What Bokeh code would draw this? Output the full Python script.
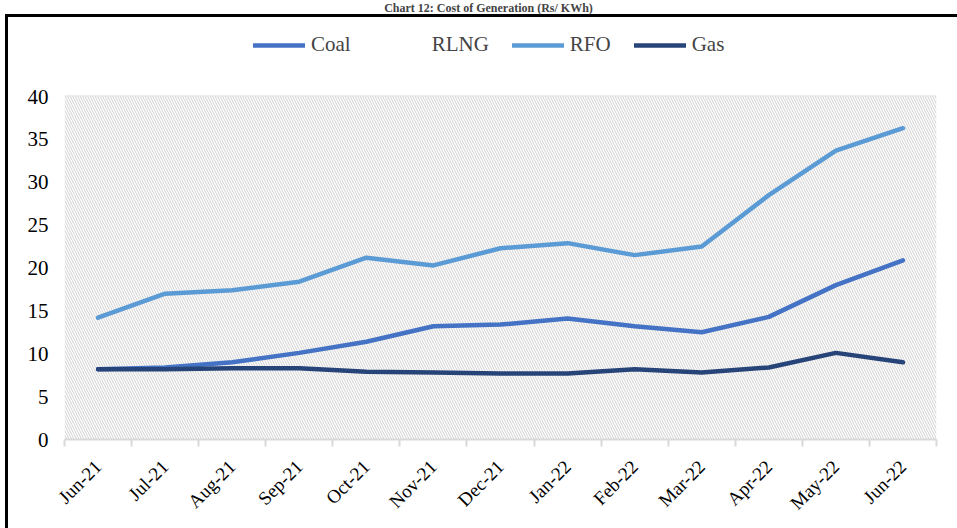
import math
from bokeh.plotting import figure
from bokeh.models import (Range1d, FixedTicker, Legend, LegendItem, BoxAnnotation,
                          Label, ColumnDataSource)
from bokeh.embed import file_html
from bokeh.resources import INLINE

# ---- data -------------------------------------------------------------
months = ["Jun-21", "Jul-21", "Aug-21", "Sep-21", "Oct-21", "Nov-21", "Dec-21",
          "Jan-22", "Feb-22", "Mar-22", "Apr-22", "May-22", "Jun-22"]
coal = [8.2, 8.4, 9.0, 10.1, 11.4, 13.2, 13.4, 14.1, 13.2, 12.5, 14.3, 18.0, 20.9]
rlng = [None, None, None, None, None, None, None, None, None, None, None, None, None]
rfo = [14.2, 17.0, 17.4, 18.4, 21.2, 20.3, 22.3, 22.9, 21.5, 22.5, 28.5, 33.7, 36.3]
gas = [8.2, 8.2, 8.3, 8.3, 7.9, 7.8, 7.7, 7.7, 8.2, 7.8, 8.4, 10.1, 9.0]
y_ticks = [0, 5, 10, 15, 20, 25, 30, 35, 40]
title_text = "Chart 12: Cost of Generation (Rs/ KWh)"

FONT = "Liberation Serif"
W, H = 957, 528
FRAME_BOTTOM = 439          # page y of the value axis zero line
FRAME_VALUE_TOP = 96        # page y of the 40 gridline

idx = list(range(len(months)))
source = ColumnDataSource(dict(x=idx, coal=coal, rlng=rlng, rfo=rfo, gas=gas))

# the frame reaches the top of the canvas so legend and title live inside it
y_top = y_ticks[-1] * FRAME_BOTTOM / (FRAME_BOTTOM - FRAME_VALUE_TOP)

p = figure(width=W, height=H,
           x_range=Range1d(-0.5, len(months) - 0.5), y_range=Range1d(0, y_top),
           output_backend="svg", toolbar_location=None,
           min_border_left=64, min_border_right=21,
           min_border_top=0, min_border_bottom=H - FRAME_BOTTOM)
p.outline_line_color = None
p.background_fill_alpha = 0
p.border_fill_alpha = 0
# outer chart border (top & left edges, as the reference crop shows)
p.styles = {
    "background-color": "white",
    "background-image": "linear-gradient(#000, #000), linear-gradient(#000, #000)",
    "background-size": "952px 3px, 3px 520px",
    "background-position": "5px 14px, 5px 14px",
    "background-repeat": "no-repeat",
}

# hatched plot area (0..40 only)
p.add_layout(BoxAnnotation(bottom=y_ticks[0], top=y_ticks[-1], fill_color="white",
                           fill_alpha=1, line_color=None,
                           hatch_pattern="\\", hatch_color="#d0d0d0",
                           hatch_scale=5, hatch_weight=1, level="underlay"))

# x axis
xa = p.xaxis[0]
xa.ticker = FixedTicker(ticks=idx, minor_ticks=[i - 0.5 for i in range(len(months) + 1)])
xa.major_label_overrides = {i: m for i, m in enumerate(months)}
xa.major_label_orientation = math.pi / 4
xa.axis_line_color = "#d9d9d9"
xa.axis_line_width = 2
xa.major_tick_line_color = None
xa.major_tick_out = 7
xa.major_tick_in = 0
xa.minor_tick_line_color = "#d9d9d9"
xa.minor_tick_line_width = 2
xa.minor_tick_out = 7
xa.minor_tick_in = 0
xa.major_label_standoff = 17
xa.major_label_text_font = FONT
xa.major_label_text_font_size = "19px"
xa.major_label_text_color = "black"

# y axis
ya = p.yaxis[0]
ya.ticker = FixedTicker(ticks=y_ticks)
ya.axis_line_color = None
ya.major_tick_line_color = None
ya.minor_tick_line_color = None
ya.major_tick_out = 0
ya.minor_tick_out = 0
ya.major_label_standoff = 16
ya.major_label_text_font = FONT
ya.major_label_text_font_size = "21px"
ya.major_label_text_color = "black"

p.xgrid.grid_line_color = None
p.ygrid.ticker = FixedTicker(ticks=y_ticks)
p.ygrid.grid_line_color = "#dcdcdc"
p.ygrid.grid_line_width = 2

# lines
kw = dict(line_width=4.5, line_cap="round", line_join="round")
r_coal = p.line("x", "coal", source=source, color="#4472C4", **kw)
r_rlng = p.line("x", "rlng", source=source, color="#A5A5A5", line_alpha=0, **kw)
r_rfo = p.line("x", "rfo", source=source, color="#5B9BD5", **kw)
r_gas = p.line("x", "gas", source=source, color="#264478", **kw)

legend = Legend(items=[LegendItem(label="Coal", renderers=[r_coal]),
                       LegendItem(label="RLNG", renderers=[r_rlng]),
                       LegendItem(label="RFO", renderers=[r_rfo]),
                       LegendItem(label="Gas", renderers=[r_gas])],
                orientation="horizontal", location=(189, FRAME_BOTTOM - 57),
                border_line_color=None, background_fill_alpha=0,
                label_text_font=FONT, label_text_font_size="21px",
                glyph_width=52, glyph_height=20, label_height=20,
                label_standoff=6, spacing=23, padding=0, margin=0)
p.add_layout(legend)

# title (shrunk so that it fits above the border)
p.add_layout(Label(x=424, y=FRAME_BOTTOM, x_units="screen", y_units="screen",
                   text=title_text, text_font=FONT, text_font_style="bold",
                   text_font_size="12px", text_align="center", text_baseline="top"))

open("out.html", "w").write(file_html(p, INLINE))
